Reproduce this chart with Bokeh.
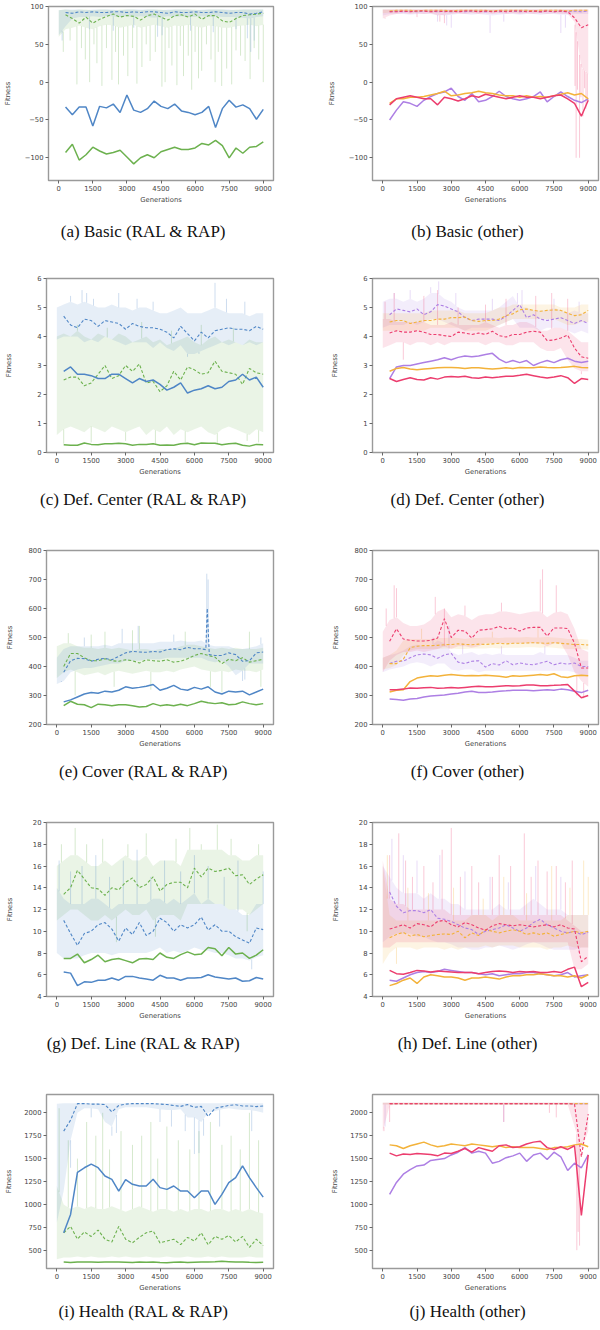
from bokeh.plotting import figure
from bokeh.layouts import column, row
from bokeh.models import Range1d, FixedTicker
from bokeh.core.properties import value
from bokeh.embed import file_html
from bokeh.resources import INLINE
import numpy as np

# ---------------- data ----------------
GENERATIONS = list(range(300, 9001, 300))        # smoothed curves
RAW_GENERATIONS = list(range(0, 9001, 300))      # raw envelopes
X_TICKS = [0, 1500, 3000, 4500, 6000, 7500, 9000]

CAPTIONS = [("(a) Basic (RAL & RAP)", "(b) Basic (other)"),
            ("(c) Def. Center (RAL & RAP)", "(d) Def. Center (other)"),
            ("(e) Cover (RAL & RAP)", "(f) Cover (other)"),
            ("(g) Def. Line (RAL & RAP)", "(h) Def. Line (other)"),
            ("(i) Health (RAL & RAP)", "(j) Health (other)")]

# (a) Basic (RAL & RAP)
basic_ral_best = [92, 91, 93, 92, 93, 92, 92, 93, 93, 92, 93, 92, 93, 93, 92, 91, 93, 92, 92, 93, 92, 92, 93, 92, 91, 92, 92, 90, 91, 93]
basic_ral_mean = [-33, -43, -33, -33, -58, -32, -34, -29, -40, -17, -37, -40, -35, -25, -32, -35, -29, -38, -40, -43, -40, -32, -60, -35, -24, -33, -30, -35, -49, -36]
basic_rap_best = [89, 84, 78, 86, 78, 83, 87, 90, 86, 88, 87, 82, 88, 90, 86, 82, 88, 89, 86, 90, 83, 88, 88, 81, 79, 84, 88, 89, 90, 91]
basic_rap_mean = [-93, -82, -103, -96, -86, -91, -95, -93, -90, -99, -108, -100, -96, -100, -92, -89, -86, -89, -89, -87, -81, -83, -77, -84, -100, -87, -94, -86, -85, -79]
basic_ral_lo = [62, 74, 84, 86, 86, 87, 86, 87, 87, 86, 87, 86, 87, 86, 85, 86, 87, 86, 87, 86, 86, 87, 86, 87, 86, 86, 86, 85, 84, 86, 87]
basic_ral_hi = [95, 96, 96, 96, 95, 96, 96, 96, 96, 95, 96, 96, 96, 96, 96, 95, 96, 96, 96, 96, 95, 96, 96, 96, 96, 96, 95, 96, 96, 96, 96]
basic_ral_spike_x = [150, 1350, 2400, 3300, 4350, 4550, 5800, 6800, 7800, 8300, 8450, 8600]
basic_ral_spike_y = [55, 70, 68, 72, 60, 62, 68, 66, 70, 58, 40, 55]
basic_rap_lo = [60, 70, 72, 75, 72, 70, 74, 76, 75, 72, 74, 76, 72, 74, 76, 74, 72, 75, 74, 76, 74, 72, 75, 74, 72, 72, 74, 75, 76, 74, 76]
basic_rap_hi = [95, 96, 95, 96, 96, 95, 96, 96, 95, 96, 96, 96, 95, 96, 96, 96, 95, 96, 96, 96, 96, 95, 96, 96, 96, 95, 96, 96, 96, 96, 96]
basic_rap_spike_x = [200, 500, 800, 1000, 1170, 1360, 1550, 1680, 1900, 2100,
                     2340, 2500, 2630, 2850, 3040, 3250, 3440, 3660, 3850, 4020,
                     4250, 4540, 4680, 4850, 4980, 5200, 5350, 5490, 5700, 5850,
                     6000, 6150, 6290, 6500, 6700, 6880, 7020, 7170, 7390, 7610,
                     7800, 8000, 8200, 8420, 8600, 8800, 9000]
basic_rap_spike_y = [40, 55, -3, 45, 30, 0, 50, 25, -5, 45,
                     3, 40, -3, 35, 8, 45, -2, 20, 50, 28,
                     40, -6, 0, 45, 22, -4, 48, 8, 35, -10,
                     40, 5, 15, 50, 30, 0, 40, -5, 18, -3,
                     42, 35, 28, 4, 45, 30, 0]

# (b) Basic (other)
basic_p1_best = [93, 94, 93, 94, 93, 94, 94, 93, 94, 93, 94, 93, 94, 94, 93, 94, 93, 94, 94, 93, 94, 94, 93, 94, 93, 94, 93, 94, 93, 94]
basic_p2_best = [94, 95, 95, 95, 94, 95, 95, 95, 95, 94, 95, 95, 95, 95, 95, 94, 95, 95, 95, 95, 95, 94, 95, 95, 95, 95, 94, 95, 95, 95]
basic_p3_best = [93, 93, 94, 93, 94, 94, 93, 94, 93, 94, 93, 94, 94, 93, 94, 93, 94, 93, 94, 94, 93, 94, 93, 94, 93, 94, 93, 85, 72, 76]
basic_p1_mean = [-50, -37, -26, -28, -32, -24, -19, -15, -13, -8, -19, -24, -15, -26, -24, -19, -12, -19, -22, -24, -22, -19, -13, -26, -19, -13, -19, -24, -27, -22]
basic_p2_mean = [-28, -22, -22, -20, -20, -19, -17, -15, -12, -18, -17, -15, -14, -12, -14, -15, -17, -18, -18, -20, -18, -20, -19, -20, -18, -16, -14, -17, -15, -22]
basic_p3_mean = [-30, -22, -20, -18, -20, -22, -22, -30, -20, -22, -25, -22, -18, -20, -16, -18, -20, -22, -20, -18, -20, -20, -22, -20, -18, -17, -22, -28, -45, -24]
basic_top_hi = [96, 96, 96, 96, 96, 96, 96, 96, 96, 96, 96, 96, 96, 96, 96, 96, 96, 96, 96, 96, 96, 96, 96, 96, 96, 96, 96, 96, 96, 96, 96]
basic_p1_lo = [88, 90, 90, 90, 89, 90, 90, 90, 89, 88, 89, 90, 90, 89, 90, 89, 88, 89, 90, 90, 89, 90, 90, 89, 90, 90, 89, 89, 90, 90, 90]
basic_p1_spike_x = [2400, 2800, 3000, 4700, 5300, 7800, 8000]
basic_p1_spike_y = [80, 75, 72, 65, 80, 65, 72]
basic_p2_lo = [91, 92, 92, 93, 92, 92, 93, 92, 92, 93, 92, 92, 93, 92, 92, 93, 92, 92, 93, 92, 92, 93, 92, 92, 93, 92, 92, 93, 92, 92, 93]
basic_p3_lo = [84, 88, 90, 91, 90, 91, 90, 91, 88, 89, 90, 91, 90, 91, 90, 91, 90, 91, 90, 91, 90, 91, 90, 91, 90, 91, 90, 90, 80, 20, 10]
basic_p3_spike_x = [100, 1500, 2500, 2700, 8420, 8470, 8530, 8620, 8680, 8770, 8840, 8900, 8960]
basic_p3_spike_y = [84, 86, 80, 78, -5, -100, -10, -100, -20, -45, -8, -35, -24]

# (c) Def. Center (RAL & RAP)
center_ral_best = [4.7, 4.4, 4.3, 4.6, 4.55, 4.35, 4.55, 4.5, 4.45, 4.25, 4.45, 4.35, 4.3, 4.3, 4.25, 4.15, 3.95, 4.35, 4.1, 3.85, 4.15, 3.95, 4.2, 4.25, 4.3, 4.25, 4.25, 4.2, 4.35, 4.25]
center_ral_mean = [2.8, 2.95, 2.7, 2.7, 2.65, 2.55, 2.55, 2.7, 2.7, 2.55, 2.4, 2.55, 2.45, 2.5, 2.35, 2.15, 2.25, 2.4, 2.05, 2.15, 2.2, 2.3, 2.2, 2.25, 2.45, 2.5, 2.7, 2.5, 2.6, 2.25]
center_rap_best = [2.5, 2.6, 2.6, 2.3, 2.4, 2.7, 3.0, 2.55, 2.65, 3.0, 2.8, 3.05, 2.4, 2.45, 2.1, 2.3, 2.8, 2.5, 2.95, 2.85, 2.7, 2.75, 3.15, 2.8, 2.75, 2.7, 2.35, 2.9, 2.75, 2.7]
center_rap_mean = [0.27, 0.25, 0.25, 0.33, 0.28, 0.27, 0.3, 0.3, 0.32, 0.3, 0.25, 0.28, 0.28, 0.3, 0.25, 0.26, 0.25, 0.3, 0.32, 0.27, 0.33, 0.32, 0.32, 0.27, 0.3, 0.32, 0.25, 0.22, 0.28, 0.27]
center_ral_lo = [3.9, 4.0, 4.0, 4.0, 3.8, 3.9, 3.8, 4.0, 3.9, 3.8, 3.7, 3.8, 3.8, 3.8, 3.6, 3.8, 3.6, 3.5, 3.7, 3.4, 3.4, 3.5, 3.6, 3.7, 3.8, 3.7, 3.8, 3.7, 3.8, 3.7, 3.8]
center_ral_hi = [5.0, 5.1, 5.2, 5.1, 5.2, 5.1, 5.0, 5.0, 5.1, 5.0, 5.0, 4.9, 5.0, 5.0, 4.9, 4.8, 4.8, 4.9, 5.0, 4.8, 4.8, 4.8, 4.9, 5.0, 4.9, 4.8, 4.8, 4.8, 4.7, 4.8, 4.8]
center_ral_spike_x = [600, 1100, 1300, 1600, 2700, 3500, 4200, 5700, 6200, 6900, 7400, 8200]
center_ral_spike_y = [5.4, 5.6, 5.5, 5.3, 5.5, 5.3, 5.2, 3.3, 3.4, 5.85, 5.3, 5.2]
center_rap_lo = [0.6, 0.8, 0.9, 0.8, 0.7, 0.9, 0.8, 0.7, 0.9, 0.8, 0.7, 0.8, 0.9, 0.6, 0.8, 0.7, 0.9, 0.6, 0.8, 0.7, 0.8, 0.9, 0.7, 0.6, 0.8, 0.9, 0.8, 0.7, 0.6, 0.8, 0.7]
center_rap_hi = [4.0, 4.1, 4.0, 4.2, 4.0, 3.9, 4.1, 4.0, 3.9, 4.1, 4.0, 3.8, 3.9, 4.0, 3.8, 3.9, 3.7, 3.8, 3.9, 4.0, 3.8, 3.7, 3.9, 4.0, 3.8, 3.9, 3.8, 3.7, 3.9, 3.8, 3.8]
center_rap_spike_x = [300, 900, 1500, 2200, 3000, 3700, 4300, 5000, 5600, 6300, 7000, 7700, 8300, 8800]
center_rap_spike_y = [0.3, 4.4, 0.35, 4.3, 0.4, 4.5, 0.3, 4.2, 0.35, 4.4, 0.3, 4.3, 0.4, 0.35]

# (d) Def. Center (other)
center_p1_best = [4.75, 4.95, 4.9, 4.85, 4.95, 4.75, 4.85, 5.1, 5.05, 4.95, 4.85, 4.65, 4.55, 4.6, 4.6, 4.6, 4.55, 4.7, 4.9, 5.1, 4.65, 4.75, 4.6, 4.55, 4.6, 4.65, 4.55, 4.45, 4.55, 4.45]
center_p2_best = [4.5, 4.55, 4.55, 4.45, 4.5, 4.55, 4.55, 4.6, 4.6, 4.65, 4.65, 4.67, 4.55, 4.52, 4.55, 4.55, 4.6, 4.72, 4.78, 4.92, 4.95, 4.9, 4.87, 4.9, 4.92, 4.9, 4.8, 4.72, 4.75, 4.9]
center_p3_best = [4.12, 4.2, 4.15, 4.15, 4.2, 4.15, 4.07, 4.07, 4.03, 4.0, 4.15, 4.12, 4.07, 4.12, 4.07, 4.18, 4.03, 3.98, 4.07, 4.07, 4.15, 4.18, 4.15, 3.86, 3.88, 3.95, 4.05, 3.6, 3.3, 3.25]
center_p1_mean = [2.55, 2.95, 3.0, 3.0, 3.05, 3.1, 3.15, 3.2, 3.27, 3.2, 3.28, 3.33, 3.3, 3.33, 3.38, 3.42, 3.22, 3.1, 3.17, 3.1, 3.17, 3.0, 3.1, 3.17, 3.1, 3.2, 3.25, 3.15, 3.1, 3.15]
center_p2_mean = [2.8, 2.9, 2.93, 2.88, 2.85, 2.88, 2.9, 2.92, 2.93, 2.93, 2.92, 2.9, 2.92, 2.92, 2.9, 2.88, 2.9, 2.92, 2.9, 2.93, 2.92, 2.92, 2.95, 2.93, 2.92, 2.93, 2.95, 2.97, 2.93, 2.92]
center_p3_mean = [2.55, 2.45, 2.52, 2.58, 2.52, 2.5, 2.58, 2.53, 2.6, 2.62, 2.6, 2.63, 2.58, 2.56, 2.6, 2.58, 2.6, 2.63, 2.63, 2.66, 2.7, 2.65, 2.6, 2.57, 2.6, 2.65, 2.58, 2.38, 2.55, 2.52]
center_p1_lo = [4.3, 4.4, 4.4, 4.4, 4.5, 4.4, 4.5, 4.6, 4.6, 4.5, 4.4, 4.3, 4.2, 4.3, 4.3, 4.3, 4.3, 4.4, 4.5, 4.6, 4.3, 4.3, 4.3, 4.2, 4.3, 4.3, 4.3, 4.2, 4.1, 4.2, 4.1]
center_p1_hi = [5.2, 5.3, 5.3, 5.2, 5.3, 5.2, 5.3, 5.5, 5.5, 5.3, 5.2, 5.0, 4.9, 4.9, 4.9, 4.9, 4.9, 5.0, 5.2, 5.4, 5.0, 5.0, 4.9, 4.9, 4.9, 5.0, 4.9, 4.8, 4.9, 4.8, 4.8]
center_p1_spike_x = [500, 1200, 2100, 2450, 3200, 4800, 5900, 6100, 7500, 8600]
center_p1_spike_y = [5.5, 5.6, 5.7, 5.9, 5.5, 5.3, 5.5, 5.6, 5.3, 5.2]
center_p2_lo = [4.2, 4.2, 4.2, 4.2, 4.2, 4.2, 4.2, 4.3, 4.3, 4.3, 4.3, 4.3, 4.2, 4.2, 4.2, 4.2, 4.3, 4.4, 4.5, 4.6, 4.6, 4.6, 4.6, 4.6, 4.6, 4.6, 4.5, 4.4, 4.4, 4.5, 4.5]
center_p2_hi = [4.8, 4.8, 4.8, 4.8, 4.8, 4.8, 4.8, 4.9, 4.9, 4.9, 4.9, 4.9, 4.8, 4.8, 4.8, 4.8, 4.9, 5.0, 5.0, 5.1, 5.1, 5.1, 5.1, 5.1, 5.1, 5.1, 5.0, 5.0, 5.0, 5.1, 5.1]
center_p3_lo = [3.6, 3.7, 3.8, 3.8, 3.7, 3.8, 3.8, 3.7, 3.8, 3.7, 3.8, 3.8, 3.8, 3.8, 3.8, 3.7, 3.8, 3.8, 3.7, 3.7, 3.8, 3.8, 3.8, 3.6, 3.5, 3.5, 3.6, 3.2, 2.9, 2.8, 2.8]
center_p3_hi = [4.6, 4.6, 4.5, 4.5, 4.5, 4.5, 4.5, 4.4, 4.4, 4.4, 4.5, 4.4, 4.4, 4.4, 4.4, 4.5, 4.4, 4.3, 4.4, 4.4, 4.5, 4.5, 4.4, 4.2, 4.2, 4.3, 4.3, 4.2, 4.0, 3.8, 3.8]
center_p3_spike_x = [100, 500, 900, 1800, 2400, 3300, 4500, 5400, 6700, 7400, 8100, 8700]
center_p3_spike_y = [5.2, 5.5, 3.2, 5.4, 5.6, 5.0, 5.1, 5.3, 5.4, 5.5, 5.3, 2.7]

# (e) Cover (RAL & RAP)
cover_ral_best_gen = [300, 600, 900, 1200, 1500, 1800, 2100, 2400, 2700, 3000, 3300, 3600, 3900, 4200, 4500, 4800,
                      5100, 5400, 5700, 6000, 6300, 6500, 6560, 6650, 6900, 7200, 7500, 7800, 8100, 8400, 8700, 9000]
cover_ral_best = [380, 420, 428, 427, 418, 425, 428, 423, 435, 447, 452, 450, 449, 452, 450, 458,
                  461, 458, 466, 461, 461, 458, 600, 441, 438, 438, 447, 441, 418, 420, 447, 450]
cover_ral_mean = [278, 285, 295, 305, 310, 308, 315, 312, 318, 330, 325, 328, 332, 338, 318, 325, 335, 322, 318, 328, 322, 330, 312, 305, 315, 312, 315, 302, 312, 322]
cover_rap_best = [400, 445, 445, 430, 420, 420, 427, 420, 418, 423, 420, 412, 423, 420, 418, 423, 415, 418, 427, 438, 445, 438, 432, 410, 425, 420, 430, 415, 420, 425]
cover_rap_mean = [265, 280, 270, 268, 258, 270, 268, 265, 268, 268, 265, 260, 262, 272, 265, 268, 265, 270, 265, 272, 280, 275, 272, 275, 268, 270, 278, 272, 268, 272]
cover_ral_lo = [340, 350, 380, 390, 395, 395, 400, 405, 410, 410, 420, 420, 420, 425, 425, 425, 430, 430, 430, 430, 430, 430, 420, 415, 420, 400, 370, 385, 410, 410, 410]
cover_ral_hi = [430, 460, 470, 470, 470, 470, 470, 475, 470, 480, 480, 480, 480, 480, 480, 485, 485, 485, 490, 485, 485, 490, 475, 470, 470, 470, 460, 460, 465, 470, 480]
cover_ral_spike_x = [200, 1200, 2850, 3550, 5100, 6540, 6600, 8100, 8200, 8900]
cover_ral_spike_y = [350, 500, 530, 540, 510, 720, 700, 350, 355, 500]
cover_rap_lo = [360, 380, 390, 380, 370, 375, 380, 370, 380, 385, 380, 375, 380, 385, 380, 380, 385, 380, 390, 395, 400, 390, 385, 380, 385, 380, 390, 385, 385, 380, 390]
cover_rap_hi = [470, 480, 480, 470, 465, 465, 460, 465, 460, 465, 460, 455, 460, 460, 455, 460, 460, 460, 470, 475, 475, 470, 465, 460, 465, 460, 465, 460, 460, 460, 465]
cover_rap_spike_x = [500, 800, 1500, 2100, 2500, 3300, 3600, 4100, 5600, 6700, 7200, 8400, 8900]
cover_rap_spike_y = [515, 300, 510, 520, 330, 525, 540, 320, 520, 330, 310, 520, 330]

# (f) Cover (other)
cover_p1_best = [410, 418, 418, 430, 440, 443, 440, 428, 440, 445, 415, 410, 418, 420, 398, 410, 405, 420, 406, 412, 408, 406, 412, 418, 406, 412, 408, 412, 400, 400]
cover_p2_best = [410, 410, 425, 465, 470, 472, 472, 473, 475, 476, 478, 476, 475, 477, 476, 478, 480, 478, 480, 480, 481, 482, 481, 480, 482, 480, 478, 476, 476, 474]
cover_p3_best = [487, 530, 495, 490, 488, 488, 490, 498, 565, 500, 525, 522, 498, 525, 527, 530, 538, 530, 533, 522, 533, 535, 535, 505, 533, 533, 531, 480, 395, 395]
cover_p1_mean = [288, 286, 284, 288, 290, 295, 298, 300, 302, 305, 308, 312, 315, 310, 310, 312, 315, 316, 318, 318, 318, 316, 318, 320, 318, 322, 320, 315, 310, 318]
cover_p2_mean = [312, 318, 320, 348, 360, 365, 368, 366, 370, 372, 370, 368, 369, 368, 370, 368, 366, 363, 368, 366, 368, 370, 372, 370, 375, 365, 362, 368, 370, 368]
cover_p3_mean = [320, 320, 322, 326, 325, 327, 328, 325, 326, 328, 326, 328, 330, 332, 330, 330, 332, 334, 333, 334, 336, 336, 334, 334, 335, 336, 338, 315, 292, 300]
cover_p1_lo = [380, 390, 395, 400, 410, 415, 410, 400, 410, 410, 390, 385, 390, 390, 380, 385, 385, 385, 385, 385, 385, 385, 385, 385, 385, 385, 385, 385, 380, 370, 370]
cover_p1_hi = [430, 440, 445, 455, 470, 475, 470, 470, 490, 480, 450, 440, 445, 450, 440, 445, 440, 445, 440, 440, 440, 440, 440, 450, 440, 440, 440, 440, 430, 420, 420]
cover_p1_spike_x = [2200, 2900, 3500, 5200, 7100]
cover_p1_spike_y = [500, 540, 480, 470, 470]
cover_p2_lo = [390, 395, 405, 440, 455, 460, 460, 460, 460, 462, 462, 460, 460, 462, 462, 462, 465, 462, 465, 465, 465, 466, 466, 465, 466, 465, 462, 460, 460, 460, 458]
cover_p2_hi = [430, 440, 455, 490, 495, 495, 495, 495, 498, 498, 500, 498, 495, 498, 498, 500, 500, 498, 500, 500, 500, 502, 500, 500, 502, 500, 498, 495, 495, 495, 492]
cover_p2_spike_x = [1700, 4800, 6800]
cover_p2_spike_y = [530, 520, 540]
cover_p3_lo = [380, 420, 440, 450, 450, 455, 450, 455, 460, 470, 460, 470, 470, 465, 470, 480, 480, 480, 480, 480, 480, 480, 480, 480, 470, 480, 480, 440, 380, 350, 330]
cover_p3_hi = [520, 560, 570, 550, 540, 540, 545, 560, 590, 600, 570, 580, 575, 560, 575, 580, 580, 590, 590, 585, 580, 585, 590, 590, 570, 585, 590, 580, 530, 460, 450]
cover_p3_spike_x = [150, 500, 600, 2300, 2700, 3600, 5200, 6900, 7000, 7600, 8500, 8800]
cover_p3_spike_y = [600, 680, 670, 640, 600, 610, 620, 700, 735, 680, 300, 290]

# (g) Def. Line (RAL & RAP)
line_ral_best = [11.0, 9.8, 8.7, 9.8, 10.0, 10.6, 10.8, 10.2, 9.1, 10.3, 9.7, 10.8, 9.6, 10.0, 11.2, 10.8, 10.0, 10.6, 10.3, 10.6, 11.3, 10.1, 10.6, 10.0, 10.0, 9.5, 9.2, 8.9, 10.3, 10.15]
line_ral_mean = [6.25, 6.15, 5.0, 5.35, 5.3, 5.5, 5.5, 5.7, 5.5, 5.85, 5.85, 5.7, 5.6, 5.5, 5.95, 5.7, 5.7, 5.5, 5.7, 5.7, 5.75, 6.0, 5.8, 5.7, 5.6, 5.7, 5.4, 5.45, 5.75, 5.6]
line_rap_best = [13.4, 14.0, 15.6, 14.8, 14.0, 13.9, 13.3, 14.0, 13.8, 14.5, 14.9, 14.0, 14.3, 15.0, 13.7, 14.3, 14.5, 14.5, 14.0, 15.8, 15.0, 15.8, 15.5, 15.6, 15.8, 15.1, 15.2, 14.3, 14.8, 15.2]
line_rap_mean = [7.5, 7.5, 7.9, 7.1, 7.4, 7.8, 7.2, 7.4, 7.5, 7.3, 7.1, 7.45, 7.5, 7.4, 8.0, 7.6, 7.5, 7.85, 8.1, 7.85, 7.9, 8.5, 8.4, 7.75, 8.5, 7.9, 8.0, 7.5, 7.8, 8.3]
line_ral_lo = [8, 7.5, 7.5, 7.5, 7.8, 8, 8, 8, 7.8, 8, 8, 8, 8, 8, 8.2, 8.5, 8, 8.2, 8, 8.2, 8.5, 8.3, 8.2, 8, 8, 7.8, 7.5, 7.5, 7.3, 7.6, 7.8]
line_ral_hi = [14, 13, 12.5, 12.5, 12.5, 13, 13, 12.5, 12, 12.5, 12.5, 12.5, 12.5, 12.5, 13, 13, 12.5, 13, 12.5, 13, 13.5, 12.5, 13, 12.5, 12.5, 12, 12, 11.5, 11.5, 12.5, 12.5]
line_ral_spike_x = [100, 600, 1100, 1700, 2300, 2900, 3500, 4100, 4700, 5400, 6000, 6600, 7300, 7900, 8500, 9000]
line_ral_spike_y = [16.5, 15.5, 16, 17, 15, 16.5, 17.5, 15, 16.5, 15.5, 17, 16, 15, 16.5, 6.5, 15.5]
line_rap_lo = [11, 11.5, 12, 12, 11.5, 11, 11, 11.5, 11, 11.5, 12, 11.5, 11.5, 12, 11, 11.5, 11.5, 11.5, 11, 12.5, 12.5, 12.5, 12.5, 12.5, 12.5, 12, 12, 12, 11.5, 12, 12.5]
line_rap_hi = [16, 16.5, 17, 17, 16.5, 16, 16, 16.5, 16, 16.5, 17, 16.5, 16.5, 17, 16, 16.5, 16.5, 16.5, 16, 17.5, 17.5, 17.5, 17.5, 17.5, 17.5, 17, 17, 16.5, 16.5, 17, 17]
line_rap_spike_x = [200, 800, 1300, 2000, 2600, 3100, 3900, 4300, 5200, 5800, 6300, 7000, 7600, 8300, 8800]
line_rap_spike_y = [18, 19.5, 18, 18.5, 9, 18, 19, 9.5, 18.5, 19.5, 18, 19.8, 18.5, 10, 18]

# (h) Def. Line (other)
line_p1_best = [13.6, 12.3, 11.7, 11.9, 11.9, 11.7, 12.0, 11.2, 11.1, 10.9, 10.6, 10.3, 10.15, 9.7, 10.0, 10.15, 10.3, 10.6, 10.3, 10.0, 10.3, 10.8, 11.1, 10.6, 10.3, 10.0, 9.85, 10.0, 9.7, 9.9]
line_p2_best = [9.4, 9.7, 9.9, 9.55, 9.7, 9.5, 9.6, 9.7, 9.75, 9.7, 10.0, 9.4, 9.85, 9.6, 10.15, 10.0, 9.85, 10.0, 10.15, 10.0, 9.7, 9.85, 9.7, 9.85, 9.55, 9.7, 9.85, 10.0, 9.85, 10.0]
line_p3_best = [10.2, 10.4, 10.6, 10.3, 10.7, 10.6, 10.4, 10.9, 11.0, 10.6, 10.4, 10.8, 10.6, 10.3, 10.1, 10.5, 10.7, 10.6, 10.5, 10.6, 10.5, 10.4, 10.5, 10.6, 10.4, 10.6, 10.3, 10.2, 7.2, 7.7]
line_p1_mean = [5.5, 5.4, 5.7, 6.0, 6.2, 6.3, 6.2, 6.3, 6.5, 6.4, 6.3, 6.2, 6.2, 6.1, 6.0, 6.1, 5.9, 6.0, 6.1, 6.1, 6.2, 6.2, 6.1, 6.0, 5.9, 6.0, 6.2, 5.8, 5.9, 6.0]
line_p2_mean = [5.0, 5.2, 5.5, 5.7, 5.2, 5.8, 6.0, 5.9, 5.8, 5.8, 5.7, 5.5, 5.7, 5.7, 5.8, 5.7, 5.6, 5.8, 5.9, 5.9, 6.0, 6.0, 6.1, 6.0, 5.9, 5.9, 5.8, 5.9, 5.7, 6.0]
line_p3_mean = [6.4, 6.1, 6.05, 6.2, 6.4, 6.35, 6.25, 6.35, 6.3, 6.25, 6.2, 6.2, 6.2, 6.1, 6.2, 6.3, 6.35, 6.3, 6.2, 6.3, 6.25, 6.3, 6.2, 6.2, 6.3, 6.2, 6.5, 6.7, 4.9, 5.3]
line_p1_lo = [9, 9.5, 9.8, 9.8, 9.8, 9.5, 9.5, 9.2, 9, 9, 8.8, 8.5, 8.5, 8.3, 8.3, 8.5, 8.5, 8.7, 8.5, 8.3, 8.5, 8.8, 9, 8.8, 8.5, 8.3, 8.3, 8.3, 8.3, 8.5, 8.5]
line_p1_hi = [16, 15, 14, 13.5, 13.5, 13.5, 13, 13.5, 13, 13, 12.5, 12.5, 12, 12, 12, 12, 12, 12.5, 12, 12, 12, 12.5, 13, 12.5, 12, 12, 12, 11.5, 11.5, 11.5, 11.5]
line_p1_spike_x = [400, 900, 1500, 2500, 3600, 4700, 5500, 6700, 7800, 8600]
line_p1_spike_y = [18.5, 17, 16.5, 17, 15.5, 15, 14.5, 16, 15, 8]
line_p2_lo = [7, 8, 8.5, 8.5, 8.5, 8.3, 8.5, 8.5, 8.5, 8.3, 8.5, 8.3, 8.5, 8.5, 8.5, 8.7, 8.5, 8.7, 8.7, 8.7, 8.5, 8.5, 8.5, 8.5, 8.3, 8.5, 8.5, 8.7, 8.5, 8.5, 8.5]
line_p2_hi = [16, 11.5, 11, 11, 11, 11, 11, 11, 11, 11, 11, 11, 11, 11.5, 11.5, 11.5, 11, 11.5, 11.5, 11.5, 11, 11, 11, 11, 11, 11, 11, 11.5, 11.5, 11.5, 11.5]
line_p2_spike_x = [200, 600, 1100, 2000, 3100, 4400, 5300, 6300, 7400, 8200, 8800, 9000]
line_p2_spike_y = [17, 7, 14, 13.5, 14, 13, 15, 13.5, 16, 14, 16.5, 15]
line_p3_lo = [8.5, 8.5, 9, 9, 9, 9, 9, 9, 9, 9, 9, 9, 9, 9, 9, 9, 9, 9, 9, 9, 9, 9, 9, 9, 9, 9, 9, 9, 6.5, 6.5, 7]
line_p3_hi = [16.5, 13, 12.5, 12.5, 12, 12, 12, 12, 12, 12, 11.5, 11.5, 11.5, 11.5, 11.5, 11.5, 11.5, 11.5, 11.5, 11.5, 11.5, 11.5, 11.5, 11.5, 11.5, 11.5, 11.5, 11, 10.5, 10, 10]
line_p3_spike_x = [300, 700, 1000, 1300, 1800, 2200, 2600, 3000, 3400, 3900, 4200, 4800, 5100, 5600, 6200, 6500, 6800, 7200, 7600, 8000, 8300]
line_p3_spike_y = [17, 19, 16.5, 15, 16, 14.5, 17.5, 19.5, 15, 16, 14.5, 15, 17, 16, 19, 15, 16.5, 15.5, 16, 14.5, 16.5]

# (i) Health (RAL & RAP)
health_ral_best = [1800, 1920, 2100, 2100, 2095, 2095, 2090, 2010, 2080, 2095, 2100, 2100, 2100, 2100, 2095, 2090, 2080, 2070, 2090, 2060, 2070, 1960, 2050, 2065, 2080, 2088, 2075, 2075, 2068, 2075]
health_ral_mean = [690, 890, 1350, 1400, 1440, 1401, 1310, 1274, 1146, 1270, 1219, 1201, 1201, 1274, 1183, 1164, 1201, 1146, 1146, 1073, 1146, 1146, 1000, 1109, 1237, 1292, 1420, 1292, 1183, 1080]
health_rap_best = [690, 760, 620, 700, 650, 720, 620, 590, 760, 620, 580, 640, 690, 710, 580, 600, 620, 560, 640, 600, 690, 560, 650, 620, 660, 590, 650, 530, 620, 550]
health_rap_mean = [370, 365, 370, 372, 370, 368, 370, 372, 370, 368, 365, 370, 368, 372, 365, 362, 368, 370, 365, 368, 370, 372, 375, 380, 375, 370, 372, 368, 365, 368]
health_ral_lo = [800, 1150, 1700, 2000, 2050, 2050, 2040, 1900, 1850, 2040, 2060, 2060, 2060, 2060, 2050, 2040, 2030, 2030, 2040, 1950, 1950, 1900, 2000, 2020, 2040, 2050, 2040, 2030, 2030, 2020, 2000]
health_ral_hi = [2100, 2105, 2105, 2105, 2105, 2105, 2105, 2105, 2105, 2105, 2105, 2105, 2105, 2105, 2105, 2105, 2105, 2105, 2105, 2105, 2105, 2105, 2105, 2105, 2105, 2105, 2105, 2105, 2105, 2105, 2105]
health_ral_spike_x = [600, 1500, 2400, 2600, 4500, 5000, 5600, 6000, 6200, 6400, 7100, 8500]
health_ral_spike_y = [1400, 1950, 1750, 1780, 1900, 1850, 1800, 1550, 1560, 1750, 1850, 1800]
health_rap_lo = [400, 420, 420, 430, 420, 430, 420, 420, 430, 420, 430, 420, 420, 430, 420, 420, 430, 420, 420, 430, 420, 420, 430, 420, 430, 420, 420, 420, 430, 420, 420]
health_rap_hi = [1200, 1000, 950, 980, 950, 980, 950, 950, 980, 950, 920, 950, 980, 950, 920, 950, 950, 920, 950, 920, 950, 950, 920, 950, 950, 920, 950, 920, 950, 920, 900]
health_rap_spike_x = [100, 500, 900, 1300, 1700, 2000, 2300, 2800, 3300, 3700, 4100, 4400, 4800, 5300, 5800, 6200, 6700, 7200, 7600, 8000, 8400, 8800]
health_rap_spike_y = [2050, 1700, 1500, 1900, 1750, 2000, 1600, 1800, 1650, 1750, 1900, 1500, 1850, 1700, 1600, 1800, 1900, 1650, 1750, 1600, 2000, 1700]

# (j) Health (other)
health_p1_best = [2100, 2100, 2100, 2100, 2100, 2100, 2100, 2100, 2100, 2100, 2100, 2100, 2100, 2100, 2100, 2100, 2100, 2100, 2100, 2100, 2100, 2100, 2100, 2100, 2100, 2100, 2100, 2100, 2100, 2100]
health_p2_best = [2100, 2100, 2100, 2100, 2100, 2100, 2100, 2100, 2100, 2100, 2100, 2100, 2100, 2100, 2100, 2100, 2100, 2100, 2100, 2100, 2100, 2100, 2100, 2100, 2100, 2100, 2100, 2100, 2100, 2100]
health_p3_best = [2100, 2100, 2100, 2100, 2100, 2100, 2100, 2100, 2100, 2100, 2100, 2100, 2100, 2100, 2100, 2100, 2100, 2100, 2100, 2100, 2100, 2100, 2100, 2100, 2100, 2100, 2100, 2095, 1520, 1985]
health_p1_mean = [1110, 1240, 1330, 1380, 1420, 1430, 1480, 1490, 1500, 1540, 1570, 1620, 1560, 1580, 1560, 1450, 1470, 1510, 1530, 1560, 1470, 1540, 1560, 1490, 1570, 1520, 1370, 1450, 1400, 1540]
health_p2_mean = [1650, 1640, 1610, 1640, 1660, 1680, 1650, 1630, 1640, 1660, 1650, 1640, 1660, 1650, 1640, 1630, 1640, 1620, 1630, 1620, 1620, 1620, 1610, 1600, 1620, 1620, 1630, 1650, 1660, 1630]
health_p3_mean = [1560, 1530, 1550, 1545, 1555, 1550, 1545, 1530, 1560, 1555, 1580, 1610, 1570, 1620, 1600, 1580, 1640, 1650, 1620, 1630, 1660, 1680, 1690, 1620, 1600, 1630, 1600, 1640, 880, 1540]
health_top_lo = [2090, 2090, 2090, 2090, 2090, 2090, 2090, 2090, 2090, 2090, 2090, 2090, 2090, 2090, 2090, 2090, 2090, 2090, 2090, 2090, 2090, 2090, 2090, 2090, 2090, 2090, 2090, 2090, 2090, 2090, 2090]
health_top_hi = [2110, 2110, 2110, 2110, 2110, 2110, 2110, 2110, 2110, 2110, 2110, 2110, 2110, 2110, 2110, 2110, 2110, 2110, 2110, 2110, 2110, 2110, 2110, 2110, 2110, 2110, 2110, 2110, 2110, 2110, 2110]
health_p1_spike_x = [100, 5300]
health_p1_spike_y = [1850, 1900]
health_p3_lo = [1800, 2080, 2090, 2090, 2090, 2090, 2090, 2090, 2090, 2090, 2090, 2090, 2090, 2090, 2090, 2090, 2090, 2090, 2090, 2090, 2090, 2090, 2090, 2090, 2090, 2090, 2090, 2090, 1850, 1600, 1800]
health_p3_spike_x = [50, 300, 5300, 7300, 7600, 8500, 8560, 8620]
health_p3_spike_y = [1800, 1900, 1900, 2000, 1950, 500, 700, 550]

# ---------------- style ----------------
BLUE = "#4f86c6"
GREEN = "#6cb14e"
PURPLE = "#ad7fe4"
ORANGE = "#f3b23a"
PINK = "#ec3d6e"

TICK_FONT = "DejaVu Sans"
CAP_FONT = "Liberation Serif"


def S(color, best, mean, lo, hi, spx=(), spy=(), best_x=None):
    return dict(color=color, best=best, mean=mean, lo=lo, hi=hi, spx=list(spx), spy=list(spy),
                best_x=best_x if best_x is not None else GENERATIONS)


ROWS = [
    dict(yr=(-130, 100), ticks=[-100, -50, 0, 50, 100], ylab_standoff=10,
         left=[S(GREEN, basic_rap_best, basic_rap_mean, basic_rap_lo, basic_rap_hi, basic_rap_spike_x, basic_rap_spike_y),
               S(BLUE, basic_ral_best, basic_ral_mean, basic_ral_lo, basic_ral_hi, basic_ral_spike_x, basic_ral_spike_y)],
         right=[S(PURPLE, basic_p1_best, basic_p1_mean, basic_p1_lo, basic_top_hi, basic_p1_spike_x, basic_p1_spike_y),
                S(ORANGE, basic_p2_best, basic_p2_mean, basic_p2_lo, basic_top_hi),
                S(PINK, basic_p3_best, basic_p3_mean, basic_p3_lo, basic_top_hi, basic_p3_spike_x, basic_p3_spike_y)]),
    dict(yr=(0, 6), ticks=[0, 1, 2, 3, 4, 5, 6], ylab_standoff=21,
         left=[S(GREEN, center_rap_best, center_rap_mean, center_rap_lo, center_rap_hi, center_rap_spike_x, center_rap_spike_y),
               S(BLUE, center_ral_best, center_ral_mean, center_ral_lo, center_ral_hi, center_ral_spike_x, center_ral_spike_y)],
         right=[S(PURPLE, center_p1_best, center_p1_mean, center_p1_lo, center_p1_hi, center_p1_spike_x, center_p1_spike_y),
                S(ORANGE, center_p2_best, center_p2_mean, center_p2_lo, center_p2_hi),
                S(PINK, center_p3_best, center_p3_mean, center_p3_lo, center_p3_hi, center_p3_spike_x, center_p3_spike_y)]),
    dict(yr=(200, 800), ticks=[200, 300, 400, 500, 600, 700, 800], ylab_standoff=12,
         left=[S(GREEN, cover_rap_best, cover_rap_mean, cover_rap_lo, cover_rap_hi, cover_rap_spike_x, cover_rap_spike_y),
               S(BLUE, cover_ral_best, cover_ral_mean, cover_ral_lo, cover_ral_hi, cover_ral_spike_x, cover_ral_spike_y,
                 best_x=cover_ral_best_gen)],
         right=[S(PURPLE, cover_p1_best, cover_p1_mean, cover_p1_lo, cover_p1_hi, cover_p1_spike_x, cover_p1_spike_y),
                S(ORANGE, cover_p2_best, cover_p2_mean, cover_p2_lo, cover_p2_hi, cover_p2_spike_x, cover_p2_spike_y),
                S(PINK, cover_p3_best, cover_p3_mean, cover_p3_lo, cover_p3_hi, cover_p3_spike_x, cover_p3_spike_y)]),
    dict(yr=(4, 20), ticks=[4, 6, 8, 10, 12, 14, 16, 18, 20], ylab_standoff=16,
         left=[S(GREEN, line_rap_best, line_rap_mean, line_rap_lo, line_rap_hi, line_rap_spike_x, line_rap_spike_y),
               S(BLUE, line_ral_best, line_ral_mean, line_ral_lo, line_ral_hi, line_ral_spike_x, line_ral_spike_y)],
         right=[S(PURPLE, line_p1_best, line_p1_mean, line_p1_lo, line_p1_hi, line_p1_spike_x, line_p1_spike_y),
                S(ORANGE, line_p2_best, line_p2_mean, line_p2_lo, line_p2_hi, line_p2_spike_x, line_p2_spike_y),
                S(PINK, line_p3_best, line_p3_mean, line_p3_lo, line_p3_hi, line_p3_spike_x, line_p3_spike_y)]),
    dict(yr=(300, 2200), ticks=[500, 750, 1000, 1250, 1500, 1750, 2000], ylab_standoff=8,
         left=[S(GREEN, health_rap_best, health_rap_mean, health_rap_lo, health_rap_hi, health_rap_spike_x, health_rap_spike_y),
               S(BLUE, health_ral_best, health_ral_mean, health_ral_lo, health_ral_hi, health_ral_spike_x, health_ral_spike_y)],
         right=[S(PURPLE, health_p1_best, health_p1_mean, health_top_lo, health_top_hi, health_p1_spike_x, health_p1_spike_y),
                S(ORANGE, health_p2_best, health_p2_mean, health_top_lo, health_top_hi),
                S(PINK, health_p3_best, health_p3_mean, health_p3_lo, health_top_hi, health_p3_spike_x, health_p3_spike_y)]),
]

FRAME_H = 174
AXIS_H = 26


def make_panel(series, spec, is_left, top):
    p = figure(width=300, height=top + FRAME_H + AXIS_H,
               x_range=Range1d(-450, 9450), y_range=Range1d(*spec["yr"]),
               output_backend="svg", toolbar_location=None,
               min_border_left=46 if is_left else 72,
               min_border_right=27 if is_left else 2,
               min_border_top=top, min_border_bottom=AXIS_H)
    p.background_fill_color = "white"
    p.border_fill_color = "white"
    p.outline_line_color = "#9a9a9a"
    p.outline_line_width = 1.4
    p.grid.visible = False

    for s in series:
        p.varea(x=RAW_GENERATIONS, y1=s["lo"], y2=s["hi"], fill_color=s["color"], fill_alpha=0.14)
        if s["spx"]:
            lo_i = np.interp(s["spx"], RAW_GENERATIONS, s["lo"])
            hi_i = np.interp(s["spx"], RAW_GENERATIONS, s["hi"])
            base = [float(h) if t > h else float(l) for t, l, h in zip(s["spy"], lo_i, hi_i)]
            p.segment(x0=s["spx"], y0=base, x1=s["spx"], y1=s["spy"],
                      line_color=s["color"], line_alpha=0.28, line_width=1)
    for s in series:
        p.line(s["best_x"], s["best"], line_color=s["color"], line_width=1.1, line_dash="3 2")
    for s in series:
        p.line(GENERATIONS, s["mean"], line_color=s["color"], line_width=1.5)

    for ax in (p.xaxis[0], p.yaxis[0]):
        ax.axis_line_color = None
        ax.major_tick_out = 3
        ax.major_tick_in = 0
        ax.minor_tick_out = 0
        ax.minor_tick_in = 0
        ax.major_tick_line_color = "#666666"
        ax.major_label_text_font = TICK_FONT
        ax.major_label_text_font_size = "6.8px"
        ax.major_label_text_color = "#444444"
        ax.major_label_standoff = 2
        ax.axis_label_text_font = TICK_FONT
        ax.axis_label_text_font_size = "6.8px"
        ax.axis_label_text_font_style = "normal"
        ax.axis_label_text_color = "#444444"
    p.xaxis.ticker = FixedTicker(ticks=X_TICKS)
    p.yaxis.ticker = FixedTicker(ticks=spec["ticks"])
    p.xaxis.axis_label = "Generations"
    p.xaxis.axis_label_standoff = 2
    p.yaxis.axis_label = "Fitness"
    p.yaxis.axis_label_standoff = spec["ylab_standoff"]
    return p


def make_caption(text, x_center, height, y_from_top):
    c = figure(width=300, height=height, x_range=Range1d(0, 300), y_range=Range1d(0, height),
               x_axis_type=None, y_axis_type=None, output_backend="svg", toolbar_location=None,
               min_border_left=0, min_border_right=0, min_border_top=0, min_border_bottom=0)
    c.outline_line_color = None
    c.grid.visible = False
    c.background_fill_color = "white"
    c.border_fill_color = "white"
    c.text(x=[x_center], y=[height - y_from_top], text=[text], text_align="center",
           text_baseline="middle", text_font=value(CAP_FONT), text_font_size="17px",
           text_color="#111111")
    return c


items = []
for i, spec in enumerate(ROWS):
    top = 6 if i == 0 else 20
    items.append(row(make_panel(spec["left"], spec, True, top),
                     make_panel(spec["right"], spec, False, top)))
    last = i == len(ROWS) - 1
    cap_h = 34 if last else 52
    cap_y = 17 if last else (25 if i == 0 else 21)
    items.append(row(make_caption(CAPTIONS[i][0], 143, cap_h, cap_y),
                     make_caption(CAPTIONS[i][1], 167, cap_h, cap_y)))

layout = column(*items)
open("out.html", "w").write(file_html(layout, INLINE))
